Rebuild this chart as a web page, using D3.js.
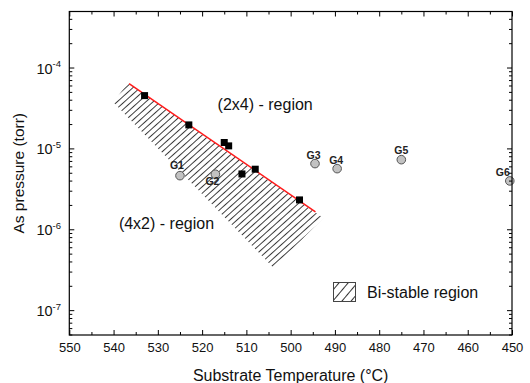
<!DOCTYPE html>
<html>
<head>
<meta charset="utf-8">
<script src="https://cdn.jsdelivr.net/npm/d3@7"></script>
<style>
  body { margin: 0; background: #fff; }
  svg { font-family: "Liberation Sans", Arial, sans-serif; }
</style>
</head>
<body>
<div id="chart"></div>
<script>
// black squares (measured transition points)
var sqTemp = [533, 523, 515, 514, 511, 508, 498];
var sqPress = [4.56e-5, 1.98e-5, 1.20e-5, 1.09e-5, 4.90e-6, 5.61e-6, 2.34e-6];

// grey circles (growth conditions)
var gName = ["G1", "G2", "G3", "G4", "G5", "G6"];
var gTemp = [525, 517, 494.5, 489.5, 475, 450.5];
var gPress = [4.67e-6, 4.86e-6, 6.58e-6, 5.70e-6, 7.36e-6, 4.02e-6];

// red boundary line
var lineTemp = [536.5, 494.4];
var linePress = [6.4e-5, 1.67e-6];

// bi-stable band corners
var bandTemp = [536.7, 492.6, 503.9, 540.1];
var bandPress = [6.5e-5, 1.4e-6, 3.4e-7, 3.8e-5];

var xTicks = [550, 540, 530, 520, 510, 500, 490, 480, 470, 460, 450];
var yTicks = [1e-7, 1e-6, 1e-5, 1e-4];
var yTickExp = ["-7", "-6", "-5", "-4"];

var W = 530, H = 383;
var pL = 69.3, pR = 512, pT = 11.5, pB = 335;

var svg = d3.select("#chart").append("svg")
  .attr("width", W).attr("height", H);

var x = d3.scaleLinear().domain([550, 450]).range([pL, pR]);
var y = d3.scaleLog().domain([5e-8, 5e-4]).range([pB, pT]);

var defs = svg.append("defs");
defs.append("pattern")
  .attr("id", "hatch")
  .attr("patternUnits", "userSpaceOnUse")
  .attr("width", 4.8).attr("height", 10)
  .attr("patternTransform", "rotate(48)")
  .append("line")
    .attr("x1", 0.5).attr("y1", 0).attr("x2", 0.5).attr("y2", 10)
    .attr("stroke", "#222").attr("stroke-width", 0.9);
defs.append("pattern")
  .attr("id", "hatchLegend")
  .attr("patternUnits", "userSpaceOnUse")
  .attr("width", 7).attr("height", 10)
  .attr("patternTransform", "rotate(40)")
  .append("line")
    .attr("x1", 0.5).attr("y1", 0).attr("x2", 0.5).attr("y2", 10)
    .attr("stroke", "#333").attr("stroke-width", 1);

// hatched band
var band = bandTemp.map(function(t, i) { return [x(t), y(bandPress[i])]; });
svg.append("path")
  .attr("d", d3.line()(band) + "Z")
  .attr("fill", "url(#hatch)")
  .attr("stroke", "none");

// red line
svg.append("path")
  .datum(lineTemp.map(function(t, i) { return [t, linePress[i]]; }))
  .attr("d", d3.line().x(function(d) { return x(d[0]); }).y(function(d) { return y(d[1]); }))
  .attr("stroke", "#ff1a1a").attr("stroke-width", 1.5).attr("fill", "none");

// squares
var sq = 7;
svg.selectAll("rect.sq")
  .data(sqTemp)
  .enter().append("rect")
    .attr("class", "sq")
    .attr("x", function(d) { return x(d) - sq / 2; })
    .attr("y", function(d, i) { return y(sqPress[i]) - sq / 2; })
    .attr("width", sq).attr("height", sq)
    .attr("fill", "#000");

// circles
svg.selectAll("circle.g")
  .data(gTemp)
  .enter().append("circle")
    .attr("class", "g")
    .attr("cx", function(d) { return x(d); })
    .attr("cy", function(d, i) { return y(gPress[i]); })
    .attr("r", 4.3)
    .attr("fill", "#c2c2c2").attr("stroke", "#555").attr("stroke-width", 1);

// label offsets relative to circle (dx, dy of text centre)
var labOff = [[-3, -10], [-3, 7.5], [-1.5, -8], [-1, -8.5], [0, -9], [-7, -9]];
svg.selectAll("text.glab")
  .data(gName)
  .enter().append("text")
    .attr("class", "glab")
    .attr("x", function(d, i) { return x(gTemp[i]) + labOff[i][0]; })
    .attr("y", function(d, i) { return y(gPress[i]) + labOff[i][1]; })
    .attr("dy", "0.35em")
    .attr("text-anchor", "middle")
    .attr("font-size", 10.5).attr("font-weight", "bold").attr("fill", "#222")
    .text(function(d) { return d; });

// frame
svg.append("rect")
  .attr("x", pL).attr("y", pT)
  .attr("width", pR - pL).attr("height", pB - pT)
  .attr("fill", "none").attr("stroke", "#000").attr("stroke-width", 1.2);

// x axes (ticks inward)
var minorX = d3.range(545, 450, -10);
var gxb = svg.append("g").attr("transform", "translate(0," + pB + ")");
gxb.call(d3.axisBottom(x).tickValues(xTicks).tickSize(-5).tickPadding(8).tickFormat(d3.format("d")));
gxb.append("g").call(d3.axisBottom(x).tickValues(minorX).tickSize(-3).tickFormat(""));
var gxt = svg.append("g").attr("transform", "translate(0," + pT + ")");
gxt.call(d3.axisTop(x).tickValues(xTicks).tickSize(-5).tickFormat(""));
gxt.append("g").call(d3.axisTop(x).tickValues(minorX).tickSize(-3).tickFormat(""));
svg.selectAll(".domain").remove();
gxb.selectAll("text").attr("font-size", 13).attr("font-family", null).attr("fill", "#111");

// y axes: major + log minor ticks, inward
var minorY = [];
[1e-8, 1e-7, 1e-6, 1e-5, 1e-4].forEach(function(dec) {
  for (var k = 2; k <= 9; k++) {
    var v = k * dec;
    if (v >= 5e-8 && v <= 5e-4) minorY.push(v);
  }
});
[pL, pR].forEach(function(px, side) {
  var dir = side === 0 ? 1 : -1;
  svg.append("g").selectAll("line").data(yTicks).enter().append("line")
    .attr("x1", px).attr("x2", px + dir * 5)
    .attr("y1", function(d) { return y(d); }).attr("y2", function(d) { return y(d); })
    .attr("stroke", "#000").attr("stroke-width", 1);
  svg.append("g").selectAll("line").data(minorY).enter().append("line")
    .attr("x1", px).attr("x2", px + dir * 3)
    .attr("y1", function(d) { return y(d); }).attr("y2", function(d) { return y(d); })
    .attr("stroke", "#000").attr("stroke-width", 1);
});

var ylab = svg.append("g").selectAll("text").data(yTicks).enter().append("text")
  .attr("x", 61)
  .attr("y", function(d) { return y(d) + 5.5; })
  .attr("text-anchor", "end")
  .attr("font-size", 14.5).attr("fill", "#111");
ylab.append("tspan").text("10");
ylab.append("tspan")
  .attr("dy", -6.5).attr("font-size", 9.5)
  .text(function(d, i) { return yTickExp[i]; });

// axis titles
svg.append("text")
  .attr("x", (pL + pR) / 2).attr("y", 381)
  .attr("text-anchor", "middle").attr("font-size", 16).attr("fill", "#111")
  .text("Substrate Temperature (\u00B0C)");
svg.append("text")
  .attr("transform", "translate(24," + ((pT + pB) / 2) + ") rotate(-90)")
  .attr("text-anchor", "middle").attr("font-size", 15.5).attr("fill", "#111")
  .text("As pressure (torr)");

// region labels
svg.append("text")
  .attr("x", x(516.5)).attr("y", 110)
  .attr("font-size", 16).attr("fill", "#111")
  .text("(2x4) - region");
svg.append("text")
  .attr("x", x(538.8)).attr("y", 228.5)
  .attr("font-size", 16).attr("fill", "#111")
  .text("(4x2) - region");

// legend
svg.append("rect")
  .attr("x", 333.5).attr("y", 282.5).attr("width", 22).attr("height", 19)
  .attr("fill", "url(#hatchLegend)").attr("stroke", "#444").attr("stroke-width", 1);
svg.append("text")
  .attr("x", 367).attr("y", 298)
  .attr("font-size", 16).attr("fill", "#111")
  .text("Bi-stable region");
</script>
</body>
</html>
